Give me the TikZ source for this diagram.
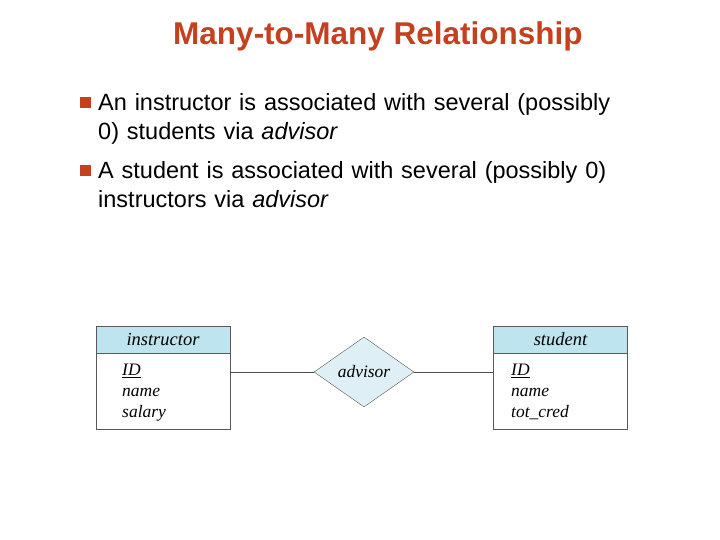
\documentclass[tikz,border=0pt]{standalone}
\usepackage{fontspec}
\setmainfont{Liberation Sans}
\newfontfamily\erfont{Liberation Serif}
\usetikzlibrary{shapes.geometric, positioning}
\definecolor{titlered}{RGB}{196,64,30}
\definecolor{headblue}{RGB}{190,228,240}
\definecolor{relblue}{RGB}{222,240,246}

\begin{document}
\begin{tikzpicture}[
            x=1pt, y=-1pt,
            bullet/.style={anchor=north west, text width=600pt, align=left, inner sep=0pt, font=\fontsize{23.5}{29}\selectfont},
            head/.style={draw=gray!70!black, fill=headblue, minimum width=134pt, minimum height=27pt, inner sep=0pt, font=\erfont\itshape\fontsize{18.5}{18.5}\selectfont},
            body/.style={draw=gray!70!black, fill=white, minimum width=134pt, minimum height=76pt, inner sep=0pt},
            attr/.style={anchor=north west, align=left, inner sep=0pt, font=\erfont\itshape\fontsize{17.5}{21}\selectfont},
            rel/.style={diamond, draw=gray!70!black, fill=relblue, minimum width=100pt, minimum height=70pt, inner sep=0pt, aspect=1.43, font=\erfont\itshape\fontsize{17.5}{17.5}\selectfont},
            line/.style={draw=gray!60!black}
        ]
        \useasboundingbox (0,0) rectangle (720,540);

        % --- Title ---
        \node (title) [text=titlered, font=\bfseries\fontsize{31.5}{31.5}\selectfont] at (378,36) {Many-to-Many Relationship};

        % --- Bullets ---
        \fill[titlered] (80,97) rectangle (91,108);
        \node (b1) [bullet] at (98,93) {An instructor is associated with several (possibly\\0) students via \textit{advisor}};
        \fill[titlered] (80,165) rectangle (91,176);
        \node (b2) [bullet] at (98,161) {A student is associated with several (possibly 0)\\instructors via \textit{advisor}};

        % --- Entities ---
        \node (inst_h) [head] at (163,339.5) {instructor};
        \node (inst_b) [body, below=0pt of inst_h] {};
        \node (inst_a) [attr] at (122,364) {\underline{ID}\\name\\salary};

        \node (stud_h) [head] at (560.5,339.5) {student};
        \node (stud_b) [body, below=0pt of stud_h] {};
        \node (stud_a) [attr] at (511,364) {\underline{ID}\\name\\tot\_cred};

        % --- Relationship ---
        \node (adv) [rel] at (364,372) {advisor};

        % --- Connectors ---
        \draw[line] (inst_b.east |- adv) -- (adv.west);
        \draw[line] (adv.east) -- (stud_b.west |- adv);
\end{tikzpicture}
\end{document}
